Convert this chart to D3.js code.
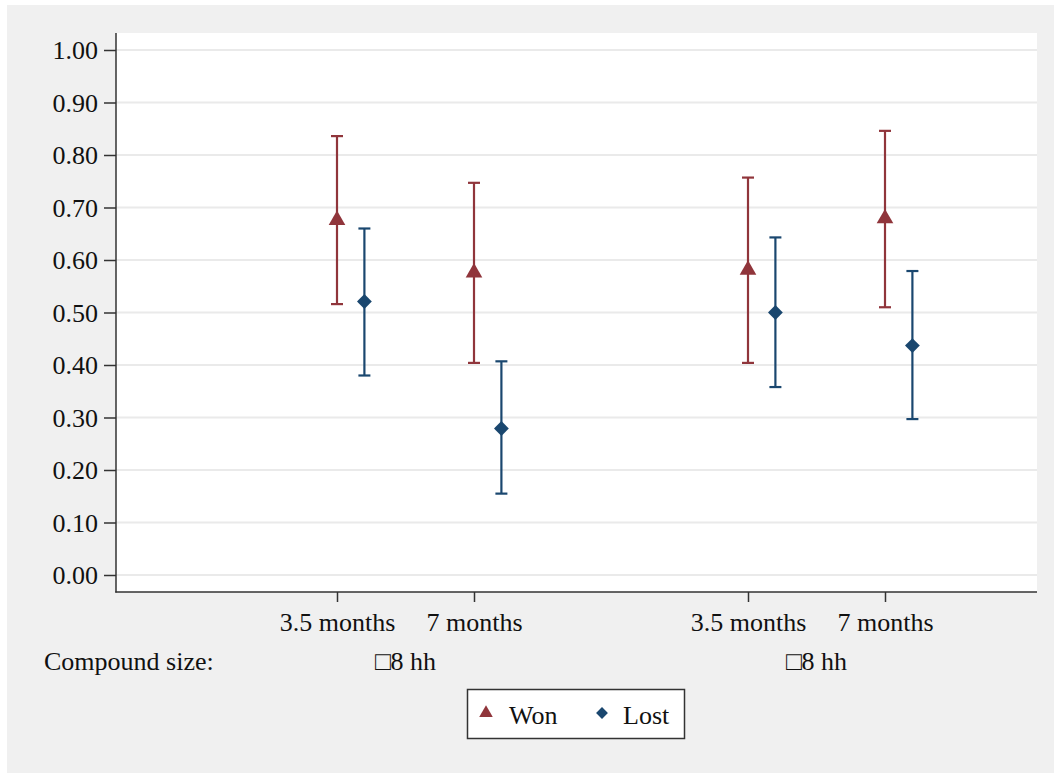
<!DOCTYPE html>
<html>
<head>
<meta charset="utf-8">
<script src="https://cdn.jsdelivr.net/npm/d3@7"></script>
<style>
  body { margin: 0; background: #ffffff; }
  svg text { font-family: "Liberation Serif", "Times New Roman", serif; fill: #111; }
</style>
</head>
<body>
<svg id="chart" width="1054" height="773"></svg>
<script>
// ---- data ----
const positions = [1, 2, 4, 5];
const periodLabels = ["3.5 months", "7 months", "3.5 months", "7 months"];
const groupLabels = ["\u25A18 hh", "\u25A18 hh"];
const groupCenters = [1.5, 4.5];
const wonMean = [0.676, 0.576, 0.581, 0.679];
const wonLow  = [0.516, 0.404, 0.404, 0.510];
const wonHigh = [0.836, 0.747, 0.757, 0.846];
const lostMean = [0.521, 0.279, 0.500, 0.437];
const lostLow  = [0.380, 0.155, 0.358, 0.297];
const lostHigh = [0.660, 0.407, 0.643, 0.579];
const yTicks = [0, 0.1, 0.2, 0.3, 0.4, 0.5, 0.6, 0.7, 0.8, 0.9, 1.0];
const lostOffset = 0.2;

const wonColor = "#90353b";
const lostColor = "#1a476f";
const fs = "26px";

const svg = d3.select("#chart");
svg.append("rect").attr("x", 7).attr("y", 5).attr("width", 1047).attr("height", 768).attr("fill", "#f0f0f0");

const pLeft = 116, pRight = 1037, pTop = 33, pBottom = 592;
svg.append("rect").attr("x", pLeft).attr("y", pTop).attr("width", pRight - pLeft).attr("height", pBottom - pTop).attr("fill", "#fff");

const y = d3.scaleLinear().domain([0, 1]).range([575, 50]);
const x = d3.scaleLinear().domain([1, 5]).range([337, 885]);

// grid
svg.append("g").selectAll("line").data(yTicks).join("line")
  .attr("x1", pLeft).attr("x2", pRight)
  .attr("y1", d => y(d)).attr("y2", d => y(d))
  .attr("stroke", "#eaeaea").attr("stroke-width", 2);

// y axis
const yAxis = d3.axisLeft(y).tickValues(yTicks).tickFormat(d3.format(".2f")).tickSize(12).tickPadding(6);
const gy = svg.append("g").attr("transform", `translate(${pLeft},0)`).call(yAxis);
gy.select(".domain").remove();
gy.selectAll(".tick line").attr("stroke", "#333").attr("stroke-width", 1.5);
gy.selectAll(".tick text").style("font-size", fs).style("font-family", "Liberation Serif").attr("fill", "#111").attr("dy", "0.33em");
svg.append("line").attr("x1", pLeft).attr("x2", pLeft).attr("y1", pTop).attr("y2", pBottom + 0.5).attr("stroke", "#333").attr("stroke-width", 1.5);

// x axis
const xAxis = d3.axisBottom(x).tickValues(positions).tickFormat((d, i) => periodLabels[i]).tickSize(10).tickPadding(10);
const gx = svg.append("g").attr("transform", `translate(0,${pBottom})`).call(xAxis);
gx.select(".domain").remove();
gx.selectAll(".tick line").attr("stroke", "#333").attr("stroke-width", 1.5);
gx.selectAll(".tick text").style("font-size", fs).style("font-family", "Liberation Serif").attr("fill", "#111")
  .attr("y", 39).attr("dy", 0);
svg.append("line").attr("x1", pLeft - 0.75).attr("x2", pRight).attr("y1", pBottom).attr("y2", pBottom).attr("stroke", "#333").attr("stroke-width", 1.5);

// group labels
svg.append("text").attr("x", 44).attr("y", 670).style("font-size", fs).text("Compound size:");
svg.append("g").selectAll("text").data(groupLabels).join("text")
  .attr("x", (d, i) => x(groupCenters[i])).attr("y", 670)
  .attr("text-anchor", "middle").style("font-size", fs).text(d => d);

// error bars
function drawSeries(mean, low, high, offset, color, symbol, size) {
  const g = svg.append("g");
  const capW = 12;
  positions.forEach((p, i) => {
    const cx = x(p + offset);
    g.append("line").attr("x1", cx).attr("x2", cx).attr("y1", y(low[i])).attr("y2", y(high[i]))
      .attr("stroke", color).attr("stroke-width", 2.2);
    [low[i], high[i]].forEach(v => {
      g.append("line").attr("x1", cx - capW / 2).attr("x2", cx + capW / 2).attr("y1", y(v)).attr("y2", y(v))
        .attr("stroke", color).attr("stroke-width", 2.2);
    });
    g.append("path").attr("d", d3.symbol().type(symbol).size(size)())
      .attr("transform", `translate(${cx},${y(mean[i])})` + (symbol === d3.symbolSquare ? " rotate(45)" : ""))
      .attr("fill", color);
  });
}
drawSeries(wonMean, wonLow, wonHigh, 0, wonColor, d3.symbolTriangle, 120);
drawSeries(lostMean, lostLow, lostHigh, lostOffset, lostColor, d3.symbolSquare, 110);

// legend
const lg = svg.append("g");
lg.append("rect").attr("x", 467.5).attr("y", 689.5).attr("width", 217).attr("height", 49)
  .attr("fill", "#fff").attr("stroke", "#333").attr("stroke-width", 1.5);
lg.append("path").attr("d", d3.symbol().type(d3.symbolTriangle).size(80)()).attr("transform", "translate(486,713)").attr("fill", wonColor);
lg.append("text").attr("x", 509).attr("y", 724).style("font-size", fs).text("Won");
lg.append("path").attr("d", d3.symbol().type(d3.symbolSquare).size(70)()).attr("transform", "translate(602,713) rotate(45)").attr("fill", lostColor);
lg.append("text").attr("x", 623).attr("y", 724).style("font-size", fs).text("Lost");
</script>
</body>
</html>
